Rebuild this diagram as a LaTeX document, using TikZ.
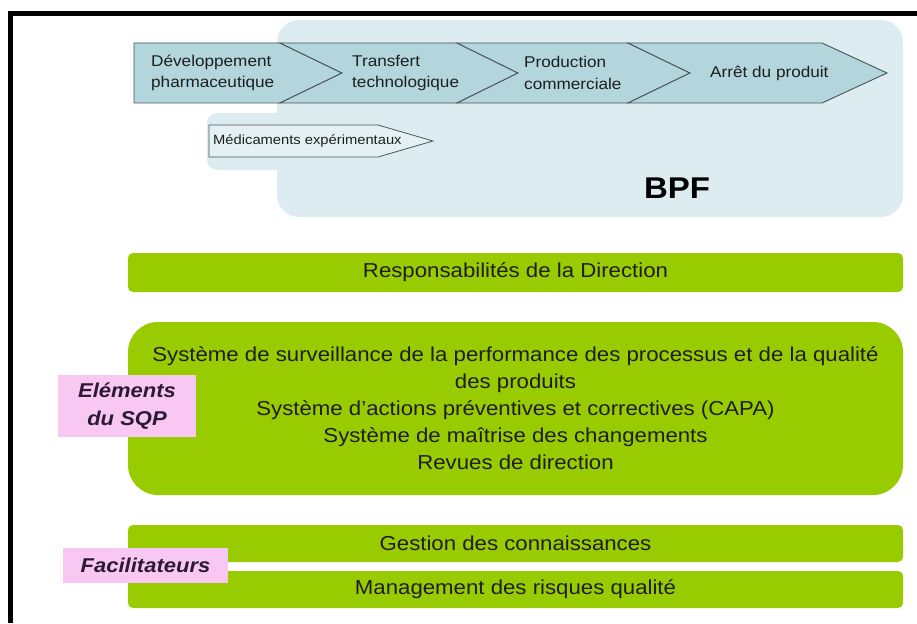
\documentclass[tikz,border=0pt]{standalone}
\usepackage{fontspec}
\setmainfont{Liberation Sans}[FakeStretch=1.1]
\definecolor{bpfbg}{HTML}{DCECF0}
\definecolor{chevfill}{HTML}{B3D6DD}
\definecolor{medfill}{HTML}{E4F1F4}
\definecolor{chevline}{HTML}{4A5557}
\definecolor{sqpgreen}{HTML}{99CC00}
\definecolor{labpink}{HTML}{F8C8F3}
\definecolor{labtext}{HTML}{2A1A36}
\definecolor{txtdark}{HTML}{1E1E1E}
\tikzset{
  chev/.style={fill=chevfill, draw=chevline, line width=0.9pt, line join=miter},
  medchev/.style={fill=medfill, draw=chevline, line width=0.8pt},
  chevtext/.style={anchor=west, align=left, inner sep=0pt, text=txtdark,
    font=\fontsize{15.6}{21.5}\selectfont},
  greenbar/.style={fill=sqpgreen, rounded corners=5pt, minimum width=775pt,
    inner sep=0pt, text=txtdark, font=\fontsize{20.2}{27}\selectfont, align=center},
  pinklab/.style={fill=labpink, inner sep=0pt, text=labtext, align=center,
    font=\fontsize{20}{28}\selectfont\bfseries\itshape},
}
\begin{document}
\begin{tikzpicture}[x=1pt, y=-1pt]
\useasboundingbox (0,0) rectangle (917,623);
% frame (top and left only)
\draw[line width=4.8pt] (10.5,623) -- (10.5,13.5) -- (917,13.5);
% BPF background
\fill[bpfbg, rounded corners=22pt] (277,20) rectangle (903,217);
\fill[bpfbg, rounded corners=10pt] (207,113) rectangle (300,170);
% chevrons
\draw[chev] (134,43) -- (280,43) -- (342,73) -- (280,103) -- (134,103) -- cycle;
\draw[chev] (280,43) -- (457,43) -- (518,73) -- (457,103) -- (280,103) -- (342,73) -- cycle;
\draw[chev] (457,43) -- (628,43) -- (690,73) -- (628,103) -- (457,103) -- (518,73) -- cycle;
\draw[chev] (628,43) -- (822,43) -- (887,73) -- (822,103) -- (628,103) -- (690,73) -- cycle;
\node[chevtext] (dev) at (151,73) {Développement\\pharmaceutique};
\node[chevtext] (trans) at (352,73) {Transfert\\technologique};
\node[chevtext] (prod) at (524,73) {Production\\commerciale};
\node[chevtext] (arret) at (710,73) {Arrêt du produit};
% experimental medicines
\draw[medchev] (209,125) -- (378,125) -- (433,141) -- (378,157) -- (209,157) -- cycle;
\node[chevtext, font=\fontsize{13.4}{16}\selectfont] (med) at (213,141) {Médicaments expérimentaux};
% BPF label
\node[inner sep=0pt, font=\fontsize{30}{34}\selectfont\bfseries, text=black] (bpf) at (677,188) {BPF};
% green bars
\node[greenbar, minimum height=39pt] (resp) at (515.5,272.5) {Responsabilités de la Direction};
\node[greenbar, minimum height=173pt, rounded corners=30pt] (sqp) at (515.5,408.5)
  {Système de surveillance de la performance des processus et de la qualité\\
   des produits\\
   Système d’actions préventives et correctives (CAPA)\\
   Système de maîtrise des changements\\
   Revues de direction};
\node[greenbar, minimum height=37pt] (gest) at (515.5,543.5) {Gestion des connaissances};
\node[greenbar, minimum height=37pt] (mgmt) at (515.5,589.5) {Management des risques qualité};
% pink labels
\node[pinklab, minimum width=138pt, minimum height=62pt] (elem) at (127,406) {Eléments\\du SQP};
\node[pinklab, minimum width=165pt, minimum height=35pt] (facil) at (145.5,565.5) {Facilitateurs};
\end{tikzpicture}
\end{document}
